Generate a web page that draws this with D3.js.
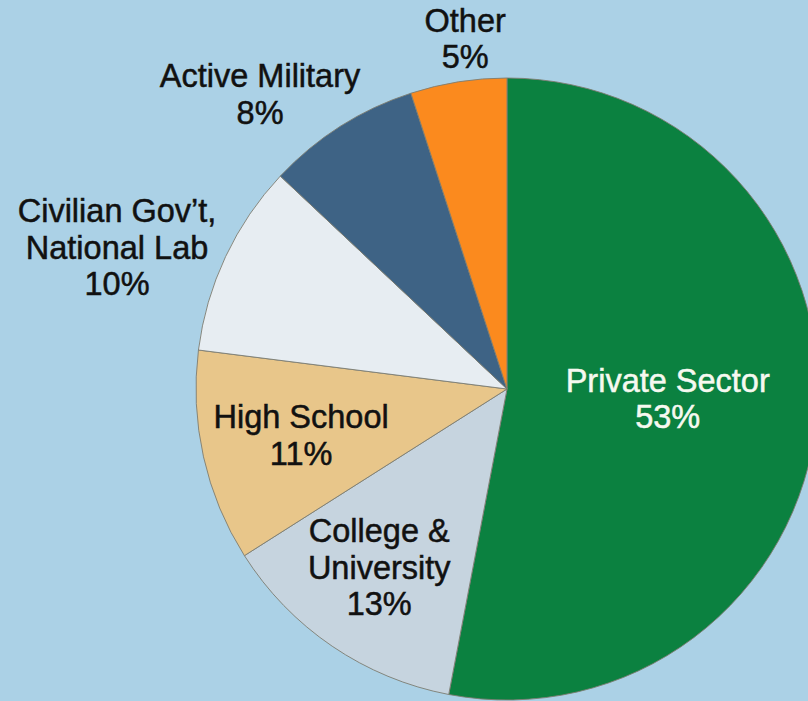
<!DOCTYPE html>
<html>
<head>
<meta charset="utf-8">
<script src="https://cdn.jsdelivr.net/npm/d3@7"></script>
<style>
  html, body { margin: 0; padding: 0; background: #abd1e6; overflow: hidden; }
  svg { display: block; }
</style>
</head>
<body>
<svg id="chart" width="808" height="701"></svg>
<script>
// ---- data ----
const categories = ["Private Sector", "College & University", "High School", "Civilian Gov't, National Lab", "Active Military", "Other"];
const values = [53, 13, 11, 10, 8, 5];
const labelLines = [
  ["Private Sector", "53%"],
  ["College &", "University", "13%"],
  ["High School", "11%"],
  ["Civilian Gov\u2019t,", "National Lab", "10%"],
  ["Active Military", "8%"],
  ["Other", "5%"]
];

// ---- styling / layout ----
const colors = ["#0b8140", "#c6d4df", "#e8c68a", "#e7edf2", "#3e6385", "#fb8a1e"];
const textColors = ["#f6f9f0", "#111", "#111", "#111", "#111", "#111"];
// label placement: radial distance (px) and angular nudge (deg) from slice mid-angle
const labelRadius = [161, 219, 211, 415, 385, 353];
const labelNudge = [-2, 1.5, 0, -5.2, -7.5, 2.2];

const W = 808, H = 701;
const cx = 507, cy = 389, R = 311;
const fontSize = 32.5, lineH = 36.5;

const svg = d3.select("#chart");
svg.append("rect").attr("width", W).attr("height", H).attr("fill", "#abd1e6");

const pie = d3.pie().sort(null).value(d => d)(values);
const arc = d3.arc().innerRadius(0).outerRadius(R);

const g = svg.append("g").attr("transform", `translate(${cx},${cy})`);

g.selectAll("path.slice")
  .data(pie)
  .join("path")
  .attr("class", "slice")
  .attr("d", arc)
  .attr("fill", (d, i) => colors[i])
  .attr("stroke", "#7d7d72")
  .attr("stroke-width", 0.9)
  .attr("stroke-linejoin", "round");

const labels = g.selectAll("text.lbl")
  .data(pie)
  .join("text")
  .attr("class", "lbl")
  .attr("text-anchor", "middle")
  .attr("font-family", "'Liberation Sans', Arial, Helvetica, sans-serif")
  .attr("font-size", fontSize)
  .attr("fill", (d, i) => textColors[i])
  .attr("stroke", (d, i) => textColors[i])
  .attr("stroke-width", 0.5)
  .each(function(d, i) {
    const a = (d.startAngle + d.endAngle) / 2 + labelNudge[i] * Math.PI / 180;
    const x = Math.sin(a) * labelRadius[i];
    const y = -Math.cos(a) * labelRadius[i];
    const lines = labelLines[i];
    const firstBase = y - (lines.length - 1) * lineH / 2 + fontSize * 0.36;
    const t = d3.select(this);
    lines.forEach((ln, j) => {
      t.append("tspan")
        .attr("x", x)
        .attr("y", firstBase + j * lineH)
        .text(ln);
    });
  });
</script>
</body>
</html>
